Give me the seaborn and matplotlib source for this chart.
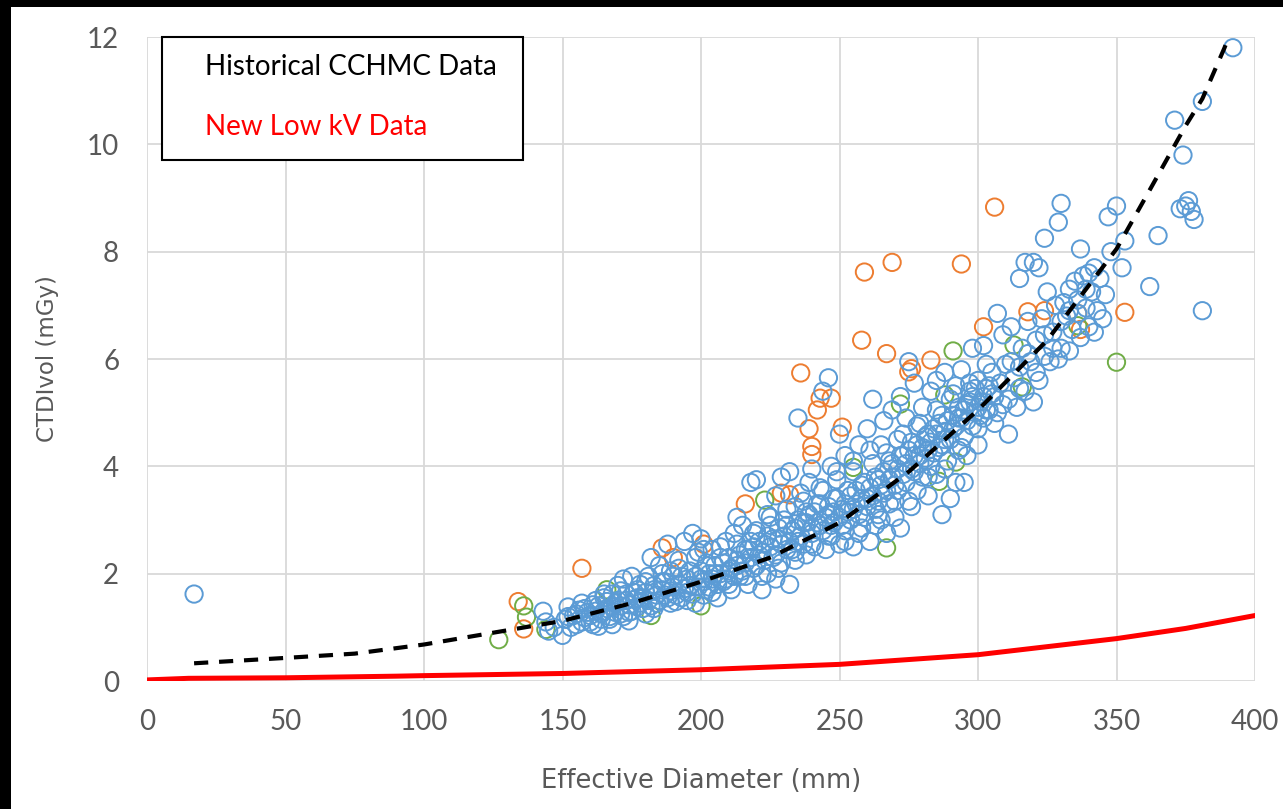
import numpy as np
import pandas as pd
import matplotlib
matplotlib.use("Agg")
import matplotlib.pyplot as plt
from matplotlib.patches import Rectangle
import seaborn as sns

# ---- data -------------------------------------------------------------
hist_x = [17, 143, 144, 145, 147, 150, 151, 152, 154, 155, 156, 157, 158, 159, 160,
          161, 162, 163, 164, 165, 166, 167, 168, 169, 170, 171, 172, 173, 174, 175,
          176, 177, 178, 179, 180, 181, 182, 183, 184, 185, 186, 187, 188, 189, 190,
          191, 192, 193, 194, 195, 196, 197, 198, 199, 200, 200, 201, 202, 203, 204,
          205, 206, 207, 208, 209, 210, 211, 212, 213, 213, 214, 215, 216, 217, 218,
          218, 219, 220, 220, 221, 222, 223, 224, 224, 225, 226, 227, 227, 228, 229,
          229, 230, 231, 232, 232, 233, 234, 234, 235, 235, 236, 237, 238, 238, 239,
          240, 240, 241, 242, 243, 244, 244, 245, 246, 246, 247, 247, 248, 248, 249,
          250, 250, 251, 252, 252, 253, 254, 255, 255, 256, 257, 257, 258, 259, 260,
          260, 261, 262, 262, 263, 263, 264, 265, 265, 266, 266, 267, 268, 268, 269,
          269, 270, 271, 271, 272, 272, 273, 274, 274, 275, 275, 276, 277, 277, 278,
          278, 279, 280, 280, 281, 282, 282, 283, 283, 284, 285, 285, 286, 287, 287,
          288, 288, 289, 290, 290, 291, 292, 292, 293, 293, 294, 295, 295, 296, 296,
          297, 298, 298, 299, 300, 300, 301, 302, 302, 303, 304, 305, 306, 307, 307,
          308, 309, 310, 311, 311, 312, 313, 314, 315, 315, 316, 317, 317, 318, 319,
          320, 320, 321, 322, 322, 323, 324, 324, 325, 326, 327, 328, 329, 329, 330,
          330, 331, 332, 333, 333, 334, 335, 336, 337, 337, 338, 339, 340, 340, 341,
          342, 343, 344, 345, 346, 347, 348, 350, 352, 353, 362, 365, 371, 373, 374,
          375, 376, 377, 378, 381, 381, 392]
hist_y = [1.62, 1.30, 1.10, 0.93, 1.00, 0.85, 1.15, 1.38, 1.22, 1.05, 1.32, 1.45, 1.18, 1.28, 1.10,
          1.42, 1.50, 1.02, 1.25, 1.55, 1.35, 1.15, 1.62, 1.45, 1.78, 1.25, 1.90, 1.50, 1.12, 1.95,
          1.65, 1.38, 1.80, 1.55, 1.25, 1.95, 2.30, 1.70, 1.45, 2.15, 1.85, 1.60, 2.55, 2.05, 1.75,
          1.48, 2.25, 1.95, 2.60, 1.65, 2.05, 2.75, 1.45, 2.40, 1.90, 2.65, 1.60, 2.20, 1.75, 2.45,
          2.00, 1.55, 2.30, 1.85, 2.60, 2.05, 1.70, 2.75, 2.25, 3.05, 1.95, 2.90, 2.45, 1.80, 3.70,
          2.60, 2.10, 3.75, 2.80, 2.35, 1.70, 2.55, 3.10, 2.00, 2.90, 2.30, 3.45, 1.90, 2.65, 3.80,
          2.20, 3.00, 2.45, 3.90, 1.80, 2.80, 3.25, 2.25, 4.90, 2.60, 3.50, 2.95, 2.35, 3.15, 3.70,
          2.75, 3.95, 2.50, 3.30, 2.90, 5.40, 3.55, 2.45, 3.10, 5.65, 4.00, 2.70, 3.40, 2.95, 3.75,
          4.60, 2.55, 3.20, 4.20, 2.80, 3.55, 3.00, 3.90, 2.50, 3.30, 4.40, 2.75, 3.65, 3.05, 4.70,
          3.40, 2.60, 5.25, 4.05, 3.20, 2.90, 3.75, 4.40, 3.00, 4.85, 3.50, 2.75, 4.10, 3.30, 5.05,
          3.80, 3.05, 4.50, 3.55, 5.30, 2.85, 4.20, 3.70, 4.90, 5.95, 3.35, 4.45, 3.90, 5.55, 3.55,
          4.75, 4.20, 3.80, 5.10, 4.55, 3.45, 4.30, 5.40, 4.00, 4.70, 3.85, 5.60, 4.35, 3.10, 4.95,
          4.50, 5.75, 4.10, 3.40, 5.25, 4.70, 5.50, 3.70, 4.30, 4.90, 5.80, 4.55, 3.70, 5.15, 4.20,
          5.40, 4.75, 6.20, 5.00, 4.40, 5.60, 5.20, 6.25, 4.90, 5.45, 5.05, 5.75, 5.30, 6.85, 5.00,
          5.55, 6.45, 5.90, 4.60, 5.25, 6.60, 5.65, 5.10, 7.50, 5.85, 6.20, 7.80, 5.40, 6.70, 5.95,
          7.80, 5.20, 6.35, 7.70, 5.60, 6.75, 8.25, 6.05, 7.25, 5.95, 6.50, 7.00, 8.55, 6.00, 8.90,
          6.20, 7.05, 6.80, 7.30, 6.15, 6.55, 7.45, 7.10, 8.05, 6.40, 7.55, 6.95, 7.60, 6.60, 7.25,
          7.70, 6.90, 7.50, 6.75, 7.20, 8.65, 8.00, 8.85, 7.70, 8.20, 7.35, 8.30, 10.45, 8.80, 9.80,
          8.85, 8.95, 8.75, 8.60, 10.80, 6.90, 11.80]

# dense core of the historical cloud
core_x = [152, 153, 155, 157, 158, 160, 161, 162, 163, 164, 165, 166, 167, 168, 169,
          170, 171, 172, 173, 174, 175, 176, 177, 178, 179, 180, 181, 182, 183, 184,
          185, 186, 187, 188, 189, 190, 191, 192, 193, 194, 195, 196, 197, 198, 199,
          200, 201, 202, 203, 204, 205, 206, 207, 208, 209, 210, 211, 212, 213, 214,
          215, 216, 217, 218, 219, 220, 221, 222, 223, 224, 225, 226, 227, 228, 229,
          230, 231, 232, 233, 234, 235, 236, 237, 238, 239, 240, 241, 242, 243, 244,
          245, 246, 247, 248, 249, 250, 251, 252, 253, 254, 255, 256, 257, 258, 259,
          260, 261, 262, 263, 264, 265, 266, 267, 268, 269, 270, 271, 272, 273, 274,
          275, 276, 277, 278, 279, 280, 281, 282, 283, 284, 285, 286, 287, 288, 289,
          290, 291, 292, 293, 294, 295, 296, 297, 298, 299, 300, 301, 302, 303, 304, 305]
core_y = [1.20, 1.00, 1.25, 1.10, 1.35, 1.22, 1.05, 1.30, 1.40, 1.15, 1.30, 1.48, 1.20, 1.38, 1.28,
          1.50, 1.40, 1.20, 1.62, 1.42, 1.30, 1.52, 1.70, 1.45, 1.35, 1.65, 1.50, 1.40, 1.78, 1.60,
          1.50, 1.70, 1.85, 1.55, 1.68, 1.95, 1.60, 1.80, 1.55, 1.72, 1.90, 1.78, 1.62, 1.95, 1.75,
          2.05, 1.85, 1.70, 2.00, 1.90, 2.15, 1.80, 2.00, 2.20, 1.90, 2.30, 2.10, 1.95, 2.15, 2.35,
          2.05, 2.20, 2.45, 2.30, 2.50, 2.15, 2.60, 2.40, 2.25, 2.70, 2.50, 2.65, 2.35, 2.85, 2.55,
          2.70, 2.90, 2.60, 2.45, 2.85, 3.00, 2.70, 2.55, 2.95, 3.10, 2.85, 3.15, 2.95, 3.30, 2.80,
          3.05, 3.25, 2.90, 3.15, 3.40, 3.05, 2.90, 3.30, 3.15, 3.45, 3.20, 3.55, 3.10, 3.40, 3.70,
          3.25, 3.60, 3.45, 3.80, 3.35, 3.65, 3.90, 3.55, 3.75, 4.05, 3.65, 3.95, 4.20, 3.85, 4.05,
          4.30, 3.95, 4.20, 4.40, 4.05, 4.35, 4.15, 4.60, 4.45, 4.25, 4.60, 4.80, 4.40, 4.65, 4.85,
          4.50, 4.95, 4.75, 5.10, 4.90, 5.05, 4.85, 5.20, 5.30, 5.45, 5.10, 4.95, 5.30, 5.05, 5.50, 5.35]

core2_x = [165, 168, 171, 174, 177, 180, 183, 186, 189, 192, 195, 198, 201, 204, 207,
           210, 213, 216, 219, 222, 225, 228, 231, 234, 237, 240, 243, 246, 249, 252,
           255, 258, 261, 264, 267, 270, 273, 276, 279, 282, 285, 288, 291, 294, 297,
           300, 303, 306, 309, 312, 315, 318, 321, 324, 327, 330, 333, 336, 339, 342]
core2_y = [1.62, 1.05, 1.68, 1.28, 1.55, 1.85, 1.35, 2.00, 1.45, 2.10, 1.50, 2.30, 2.45, 1.65, 2.50,
           1.80, 2.55, 1.95, 2.75, 1.95, 3.05, 2.10, 3.20, 2.40, 3.35, 2.55, 3.60, 2.70, 3.90, 2.60,
           4.10, 2.85, 4.30, 3.10, 4.25, 3.35, 4.60, 3.25, 4.80, 3.80, 5.05, 3.95, 5.35, 4.35, 5.55,
           4.70, 5.90, 4.80, 5.15, 5.95, 5.45, 6.10, 5.75, 6.45, 6.20, 6.70, 6.90, 6.85, 7.30, 6.50]

lowkv_a_x = [134, 136, 157, 186, 190, 201, 216, 229, 232, 236, 239, 240, 240, 242, 243,
             247, 251, 258, 259, 267, 269, 275, 276, 283, 294, 302, 306, 318, 324, 336,
             337, 353]
lowkv_a_y = [1.48, 0.97, 2.10, 2.48, 2.30, 2.55, 3.30, 3.50, 3.47, 5.74, 4.70, 4.37, 4.22, 5.05, 5.27,
             5.27, 4.73, 6.35, 7.62, 6.10, 7.80, 5.76, 5.82, 5.98, 7.77, 6.60, 8.83, 6.88, 6.90, 6.85,
             6.55, 6.87]

lowkv_b_x = [127, 136, 137, 144, 166, 182, 200, 223, 255, 267, 272, 286, 288, 291, 292,
             313, 316, 336, 350]
lowkv_b_y = [0.77, 1.40, 1.19, 0.96, 1.70, 1.22, 1.40, 3.37, 3.98, 2.48, 5.16, 3.72, 5.33, 6.15, 4.08,
             6.26, 5.48, 6.62, 5.94]

fit_x = [17, 50, 75, 100, 125, 150, 175, 200, 225, 250, 275, 300, 325, 350, 362, 375, 381, 389, 392]
fit_y = [0.33, 0.43, 0.51, 0.68, 0.90, 1.12, 1.45, 1.85, 2.30, 2.95, 3.90, 5.05, 6.35, 8.05, 9.15, 10.35, 10.85, 11.80, 12.20]

new_x = [0, 15, 50, 90, 100, 150, 200, 250, 300, 350, 375, 400]
new_y = [0.02, 0.05, 0.06, 0.09, 0.10, 0.14, 0.21, 0.31, 0.49, 0.79, 0.98, 1.22]

x_ticks = [0, 50, 100, 150, 200, 250, 300, 350, 400]
y_ticks = [0, 2, 4, 6, 8, 10, 12]

# ---- styling ------------------------------------------------------------
sns.set_theme(style="white")
plt.rcParams["font.family"] = ["Lato", "DejaVu Sans"]

BLUE = "#5B9BD5"
ORANGE = "#ED7D31"
GREEN = "#70AD47"
GRID = "#D9D9D9"
TXT = "#595959"

fig = plt.figure(figsize=(12.83, 8.09), dpi=100, facecolor="black")
# white canvas inside the dark frame
fig.patches.append(Rectangle((11 / 1283, 0), 1 - 11 / 1283, (809 - 7) / 809,
                             transform=fig.transFigure, facecolor="white",
                             edgecolor="none", zorder=-10))

ax = fig.add_axes([147 / 1283, (809 - 681) / 809, (1255 - 147) / 1283, (681 - 37) / 809])
ax.set_zorder(1)
ax.set_facecolor("white")

marker_kw = dict(s=155, linewidth=1.4, facecolor="none", ax=ax, legend=False)

hist = pd.DataFrame({"x": hist_x + core_x + core2_x, "y": hist_y + core_y + core2_y})
sns.scatterplot(data=hist, x="x", y="y", edgecolor=BLUE, zorder=3, **marker_kw)
sns.scatterplot(x=lowkv_a_x, y=lowkv_a_y, edgecolor=ORANGE, zorder=2, **marker_kw)
sns.scatterplot(x=lowkv_b_x, y=lowkv_b_y, edgecolor=GREEN, zorder=2, **marker_kw)

sns.lineplot(x=new_x, y=new_y, color="#FF0000", linewidth=3.6, ax=ax, zorder=5)
sns.lineplot(x=fit_x, y=fit_y, color="black", linewidth=3.0, ax=ax, zorder=6,
             linestyle=(0, (3.4, 2.6)))

ax.set_xlim(0, 400)
ax.set_ylim(0, 12)
ax.set_xticks(x_ticks)
ax.set_yticks(y_ticks)
ax.grid(True, color=GRID, linewidth=1.3)
for s in ax.spines.values():
    s.set_visible(False)
ax.tick_params(axis="both", length=0, labelsize=20, colors=TXT)
ax.tick_params(axis="x", pad=20)
ax.tick_params(axis="y", pad=20)

ax.set_xlabel("Effective Diameter (mm)", labelpad=24, fontsize=18.5, color=TXT,
              family=["DejaVu Sans"])
ax.set_ylabel("CTDIvol (mGy)", labelpad=20, fontsize=16.5, color=TXT,
              family=["DejaVu Sans"])

# legend box
ax.add_patch(Rectangle((0.0135, 0.809), 0.326, 0.191, transform=ax.transAxes,
                       facecolor="white", edgecolor="black", linewidth=1.5,
                       zorder=10, clip_on=False))
ax.text(0.0524, 0.953, "Historical CCHMC Data", transform=ax.transAxes,
        fontsize=20, color="black", va="center", ha="left", zorder=11)
ax.text(0.0524, 0.860, "New Low kV Data", transform=ax.transAxes,
        fontsize=20, color="#FF0000", va="center", ha="left", zorder=11)

fig.savefig("out.png", dpi=100, facecolor=fig.get_facecolor())
